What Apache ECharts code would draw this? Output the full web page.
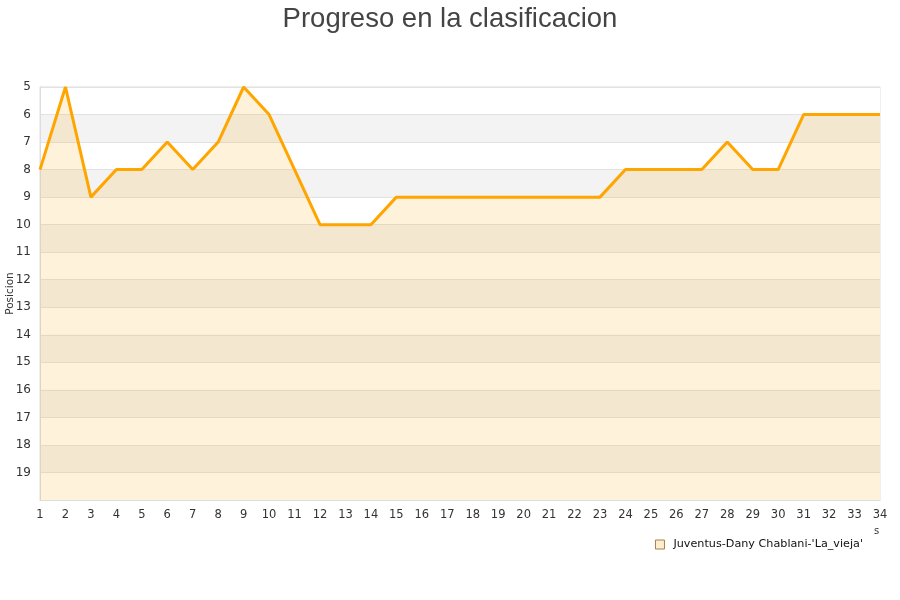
<!DOCTYPE html>
<html>
<head>
<meta charset="utf-8">
<script src="https://cdn.jsdelivr.net/npm/echarts@6/dist/echarts.min.js"></script>
<style>html,body{margin:0;padding:0;background:#fff}#c{width:900px;height:600px}</style>
</head>
<body>
<div id="c"></div>
<script>
var jornadas = [1,2,3,4,5,6,7,8,9,10,11,12,13,14,15,16,17,18,19,20,21,22,23,24,25,26,27,28,29,30,31,32,33,34];
var posiciones = [8,5,9,8,8,7,8,7,5,6,8,10,10,10,9,9,9,9,9,9,9,9,9,8,8,8,8,7,8,8,6,6,6,6];
var serieNombre = "Juventus-Dany Chablani-'La_vieja'";
var tituloTexto = 'Progreso en la clasificacion';

var chart = echarts.init(document.getElementById('c'));
chart.setOption({
  animation: false,
  backgroundColor: '#fff',
  title: {
    text: tituloTexto,
    left: 'center',
    top: 0,
    textStyle: {fontFamily: 'Liberation Sans, Arial, sans-serif', fontSize: 27.5, fontWeight: 'normal', color: '#444'}
  },
  legend: {
    right: 32,
    top: 534,
    itemWidth: 9,
    itemHeight: 9,
    icon: 'rect',
    textStyle: {fontFamily: 'DejaVu Sans, sans-serif', fontSize: 11.2, color: '#111', padding: [0, 0, 0, 4]},
    data: [{name: serieNombre, itemStyle: {color: '#ffedcc', borderColor: '#a08050', borderWidth: 1}}]
  },
  grid: {
    left: 40, right: 20, top: 87, bottom: 100,
    containLabel: false,
    outerBoundsMode: 'none',
    show: true, borderColor: '#ddd', borderWidth: 1, backgroundColor: 'transparent'
  },
  xAxis: {
    type: 'category',
    data: jornadas,
    boundaryGap: false,
    name: 's',
    nameLocation: 'end',
    nameGap: -6,
    nameTextStyle: {fontFamily: 'DejaVu Sans, sans-serif', fontSize: 10, color: '#333', verticalAlign: 'top', padding: [26, 0, 0, 0]},
    axisLine: {show: true, lineStyle: {color: '#ddd'}},
    axisTick: {show: false},
    axisLabel: {fontFamily: 'DejaVu Sans, sans-serif', fontSize: 11.5, color: '#333', margin: 9},
    splitLine: {show: false}
  },
  yAxis: {
    type: 'value',
    inverse: true,
    min: 5,
    max: 20,
    interval: 1,
    name: 'Posicion',
    nameLocation: 'middle',
    nameRotate: 90,
    nameGap: 24,
    nameMoveOverlap: false,
    nameTextStyle: {fontFamily: 'DejaVu Sans, sans-serif', fontSize: 10.5, color: '#333'},
    axisLine: {show: true, lineStyle: {color: '#ddd'}},
    axisTick: {show: false},
    axisLabel: {
      fontFamily: 'DejaVu Sans, sans-serif', fontSize: 12, color: '#333', margin: 9,
      formatter: function (v) { return v === 20 ? '' : String(v); }
    },
    splitLine: {show: true, lineStyle: {color: '#e2e2e2'}},
    splitArea: {show: true, areaStyle: {color: ['#ffffff', '#f3f3f3']}}
  },
  series: [{
    name: serieNombre,
    type: 'line',
    data: posiciones,
    showSymbol: false,
    symbol: 'none',
    lineStyle: {color: '#FFA500', width: 3},
    itemStyle: {color: '#FFA500'},
    areaStyle: {color: 'rgba(255,165,0,0.2)', origin: 'end'}
  }]
});
</script>
</body>
</html>
